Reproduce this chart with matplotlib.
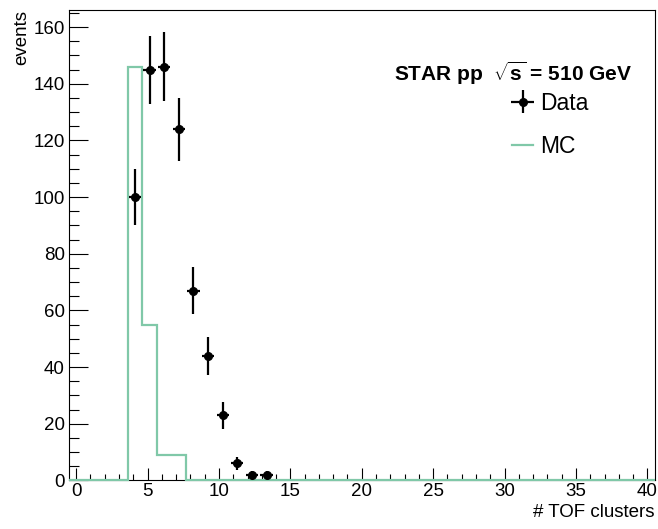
import numpy as np
import matplotlib.pyplot as plt
from matplotlib.lines import Line2D
from matplotlib.ticker import MultipleLocator

plt.rcParams['font.family'] = ['Liberation Sans', 'DejaVu Sans']
plt.rcParams['mathtext.fontset'] = 'custom'
plt.rcParams['mathtext.rm'] = 'Liberation Sans'
plt.rcParams['mathtext.bf'] = 'Liberation Sans:bold'

# histogram binning: 40 bins over [-0.5, 40.5]
n_bins = 40
x_lo, x_hi = -0.5, 40.5

# measured TOF cluster multiplicity (non-empty bins only)
data_bins = [4, 5, 6, 7, 8, 9, 10, 11, 12, 13]
data_counts = [100, 145, 146, 124, 67, 44, 23, 6, 2, 2]
data_err = [10, 12, 12.1, 11.1, 8.2, 6.6, 4.8, 2.4, 1.4, 1.4]

# simulation, non-empty bins
mc_bins = [4, 5, 6, 7]
mc_counts = [146, 55, 9, 9]

edges = np.linspace(x_lo, x_hi, n_bins + 1)
width = edges[1] - edges[0]
centers = 0.5 * (edges[:-1] + edges[1:])

mc_hist = np.zeros(n_bins)
mc_hist[mc_bins] = mc_counts

mc_color = '#80c8a8'

fig = plt.figure(figsize=(6.58, 5.29), dpi=100)
ax = fig.add_axes([0.1049, 0.0917, 0.8898, 0.8893])

ax.stairs(mc_hist, edges, color=mc_color, lw=1.6, zorder=3, clip_on=False)
data = ax.errorbar(centers[data_bins], data_counts, yerr=data_err, xerr=0.42 * width,
                   fmt='o', color='black', ms=5.5, elinewidth=1.6, capsize=0,
                   zorder=4)

ax.set_xlim(x_lo, x_hi)
ax.set_ylim(0, 166)

ax.xaxis.set_major_locator(MultipleLocator(5))
ax.xaxis.set_minor_locator(MultipleLocator(1))
ax.yaxis.set_major_locator(MultipleLocator(20))
ax.yaxis.set_minor_locator(MultipleLocator(5))
ax.tick_params(axis='both', which='both', direction='in', top=False, right=False,
               labelsize=13.5, width=0.8)
ax.tick_params(axis='x', which='major', length=9, pad=2)
ax.tick_params(axis='x', which='minor', length=4.5)
ax.tick_params(axis='y', which='major', length=14, pad=3)
ax.tick_params(axis='y', which='minor', length=7)
for sp in ax.spines.values():
    sp.set_linewidth(0.8)

ax.set_xlabel('# TOF clusters', fontsize=13.5, loc='right')
ax.xaxis.set_label_coords(1.0, -0.05)
ax.set_ylabel('events', fontsize=13.5, loc='top')
ax.yaxis.set_label_coords(-0.066, 1.0)

ax.text(0.962, 0.8645, r'STAR pp  $\sqrt{\mathbf{s}}$ = 510 GeV', transform=ax.transAxes,
        ha='right', va='center', fontsize=15, fontweight='bold')

mc_handle = Line2D([], [], color=mc_color, lw=1.6)
ax.legend(handles=[data, mc_handle], labels=['Data', 'MC'],
          loc='upper left', bbox_to_anchor=(0.757, 0.826),
          frameon=False, fontsize=16.5, handlelength=0.9, handletextpad=0.3,
          labelspacing=0.87, borderpad=0, borderaxespad=0)

fig.savefig('out.png', dpi=100)
